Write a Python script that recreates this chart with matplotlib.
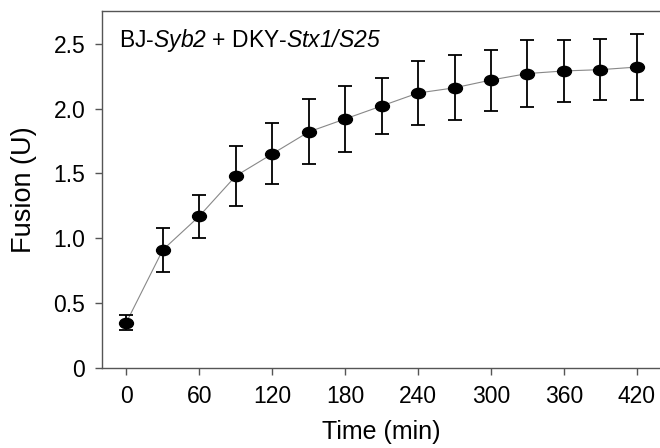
import numpy as np
import matplotlib
matplotlib.use("Agg")
import matplotlib.pyplot as plt
from matplotlib.path import Path
from matplotlib.ticker import FuncFormatter

# data
time_min = [0, 30, 60, 90, 120, 150, 180, 210, 240, 270, 300, 330, 360, 390, 420]
fusion = [0.35, 0.91, 1.17, 1.48, 1.65, 1.82, 1.92, 2.02, 2.12, 2.16, 2.22, 2.27, 2.29, 2.30, 2.32]
fusion_err = [0.055, 0.17, 0.165, 0.23, 0.235, 0.25, 0.255, 0.215, 0.25, 0.25, 0.235, 0.255, 0.24, 0.235, 0.255]
x_ticks = [0, 60, 120, 180, 240, 300, 360, 420]
y_ticks = [0, 0.5, 1.0, 1.5, 2.0, 2.5]

plt.rcParams["font.family"] = ["Liberation Sans", "DejaVu Sans"]
# \mathrm is used only for the italic gene names, so map it to italic
plt.rcParams["mathtext.fontset"] = "custom"
plt.rcParams["mathtext.rm"] = "Liberation Sans:italic"
plt.rcParams["mathtext.it"] = "Liberation Sans:italic"

# flattened ellipse marker
circle = Path.unit_circle()
ellipse = Path(circle.vertices * np.array([1.35, 1.0]), circle.codes)

fig = plt.figure(figsize=(6.6, 4.48), dpi=100)
ax = fig.add_axes([0.1545, 0.1786, 0.8455, 0.7962])

ax.plot(time_min, fusion, color="#888888", linewidth=0.8, zorder=1)
ax.errorbar(time_min, fusion, yerr=fusion_err, fmt="none", ecolor="black",
            elinewidth=1.3, capsize=4.7, capthick=1.3, zorder=2)
ax.plot(time_min, fusion, linestyle="none", marker=ellipse, markersize=10,
        color="black", zorder=3)

ax.set_xlim(-20, 439)
ax.set_ylim(0, 2.75)
ax.set_xticks(x_ticks)
ax.set_yticks(y_ticks)
ax.yaxis.set_major_formatter(FuncFormatter(lambda v, p: "0" if v == 0 else f"{v:.1f}"))

for side in ["left", "top", "bottom"]:
    ax.spines[side].set_color("#555555")
    ax.spines[side].set_linewidth(1.0)
ax.spines["right"].set_visible(False)

ax.tick_params(axis="both", direction="out", length=5, width=1.0, color="#555555",
               labelsize=16.5)
ax.tick_params(axis="x", pad=7)
ax.tick_params(axis="y", pad=7)

ax.set_xlabel("Time (min)", fontsize=18, labelpad=9)
ax.set_ylabel("Fusion (U)", fontsize=19.5, labelpad=12)

ax.text(0.03, 0.955, r"BJ-$\mathrm{Syb2}$ + DKY-$\mathrm{Stx1/S25}$",
        transform=ax.transAxes, fontsize=16.5, va="top", ha="left")

fig.savefig("out.png", dpi=100)
